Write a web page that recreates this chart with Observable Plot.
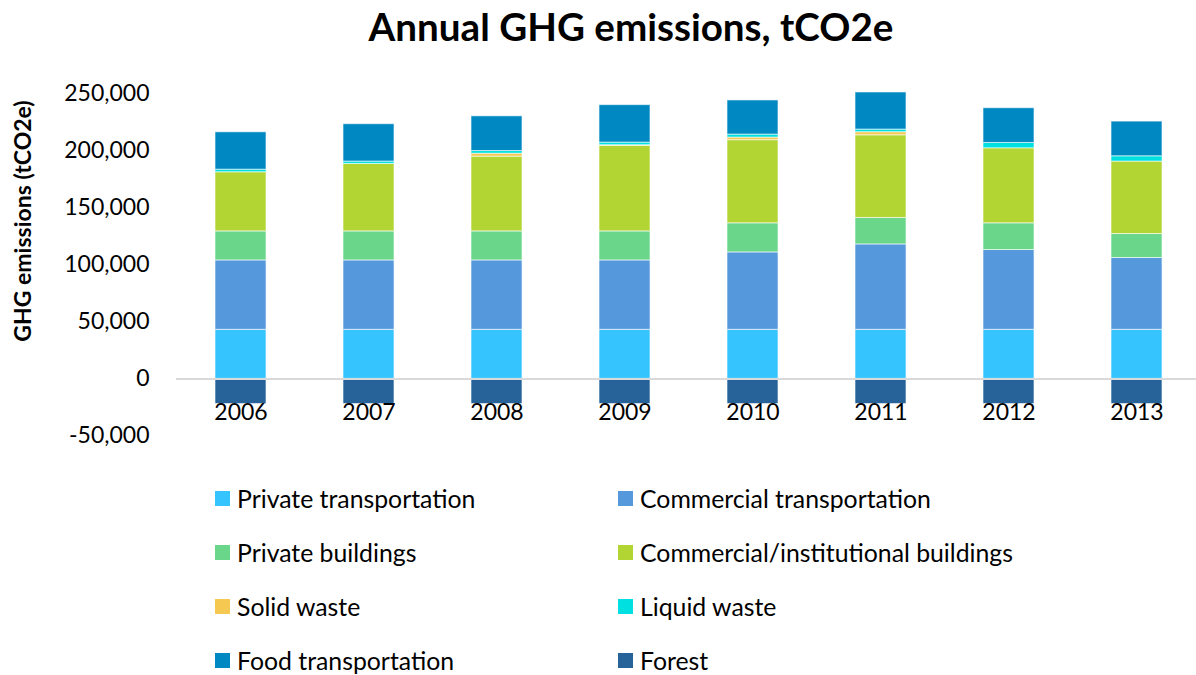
<!DOCTYPE html>
<html><head><meta charset="utf-8">
<script src="https://cdn.jsdelivr.net/npm/d3@7"></script>
<script src="https://cdn.jsdelivr.net/npm/@observablehq/plot@0.6"></script>
<style>
body{margin:0;background:#fff;font-family:Lato, sans-serif;color:#000;}
#wrap{position:relative;width:1196px;height:675px;overflow:hidden;}
#title{position:absolute;top:4px;left:0;width:1262px;text-align:center;font-weight:bold;font-size:38.6px;line-height:44px;}
#ylabel{position:absolute;left:22px;top:221px;transform:translate(-50%,-50%) rotate(-90deg);white-space:nowrap;font-weight:bold;font-size:23px;}
#chart{position:absolute;left:0;top:0;}
.leg{position:absolute;display:flex;align-items:center;font-size:24.8px;white-space:nowrap;height:30px;}
.sw{width:15px;height:15px;margin-right:7px;}
</style></head>
<body><div id="wrap">
<div id="chart"></div>
<div id="title">Annual GHG emissions, tCO2e</div>
<div id="ylabel">GHG emissions (tCO2e)</div>
<div id="legend"></div>
</div>
<script>
const years = ["2006","2007","2008","2009","2010","2011","2012","2013"];
const seriesNames = ["Private transportation","Commercial transportation","Private buildings","Commercial/institutional buildings","Solid waste","Liquid waste","Food transportation","Forest"];
const seriesColors = ["#35C4FD","#5599DC","#69D68A","#B3D533","#F5C851","#00E0E0","#0088C2","#276298"];
const privateTransportation = [43000,43000,43000,43000,43000,43000,43000,43000];
const commercialTransportation = [60800,60800,60800,60800,67800,74800,69900,62900];
const privateBuildings = [25400,25400,25400,25400,25500,23200,23400,21000];
const commercialBuildings = [51800,59100,65500,74900,72800,72400,65700,63500];
const solidWaste = [0,0,2600,600,2300,2700,0,0];
const liquidWaste = [2300,2100,2300,2300,2600,2300,4700,4600];
const foodTransportation = [32700,32700,30400,32800,29900,32500,30400,30400];
const forest = [-22000,-22000,-22000,-22000,-22000,-22000,-22000,-22000];
const yTicks = [-50000,0,50000,100000,150000,200000,250000];
const yTickLabels = ["-50,000","0","50,000","100,000","150,000","200,000","250,000"];

const seriesValues = [privateTransportation,commercialTransportation,privateBuildings,commercialBuildings,solidWaste,liquidWaste,foodTransportation,forest];
const rows = [];
seriesNames.forEach((name,k)=>years.forEach((yr,i)=>rows.push({year:yr,series:name,value:seriesValues[k][i]})));

const chart = Plot.plot({
  width:1196, height:470,
  marginTop:93, marginBottom:34.5, marginLeft:176, marginRight:0,
  style:{fontFamily:"Lato, sans-serif", fontSize:"23px", color:"#000", background:"transparent"},
  x:{domain:years, range:[176,1202], paddingInner:0.6, paddingOuter:0.3, axis:null},
  y:{domain:[-50000,250000], axis:null},
  color:{domain:seriesNames, range:seriesColors},
  marks:[
    Plot.barY(rows,{x:"year", y:"value", fill:"series", stroke:"#ffffff", strokeOpacity:0.6, strokeWidth:1}),
    Plot.ruleY([0],{stroke:"#d9d9d9", strokeWidth:2}),
    Plot.axisY(yTicks,{tickSize:0, tickPadding:27, tickFormat:(d)=>yTickLabels[yTicks.indexOf(d)], fontSize:23, label:null}),
    Plot.axisX({tickSize:0, tickPadding:0, dy:-32, fontSize:23, label:null})
  ]
});
document.getElementById("chart").appendChild(chart);

const leg = document.getElementById("legend");
seriesNames.forEach((name,k)=>{
  const col = k%2, row = Math.floor(k/2);
  const d = document.createElement("div");
  d.className="leg";
  d.style.left = (col===0?215:618)+"px";
  d.style.top = (483+row*54)+"px";
  d.innerHTML = `<div class="sw" style="background:${seriesColors[k]}"></div><span>${name}</span>`;
  leg.appendChild(d);
});
</script>
</body></html>
